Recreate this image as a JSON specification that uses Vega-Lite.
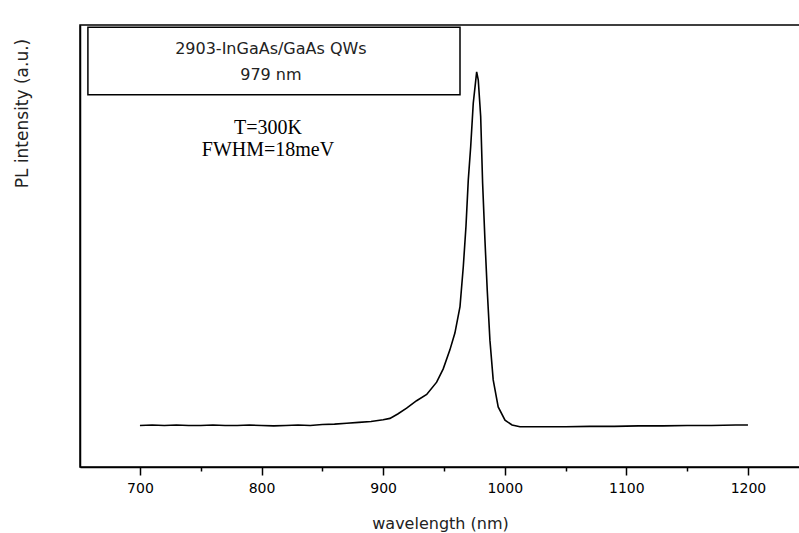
{
  "$schema": "https://vega.github.io/schema/vega-lite/v6.json",
  "width": 720,
  "height": 442,
  "autosize": {"type": "none"},
  "padding": {"left": 80, "top": 25, "right": 0, "bottom": 66},
  "background": "white",
  "config": {
    "view": {"stroke": "black", "strokeWidth": 1.5},
    "axis": {"grid": false, "domainColor": "black", "domainWidth": 1.5, "tickColor": "black", "tickWidth": 1.5, "labelColor": "black", "titleColor": "#222222", "titleFontWeight": "normal", "labelFont": "DejaVu Sans", "titleFont": "DejaVu Sans"}
  },
  "datasets": {
    "spectrum": [
      {"wavelength": 700, "intensity": 9.4},
      {"wavelength": 710, "intensity": 9.5},
      {"wavelength": 720, "intensity": 9.4},
      {"wavelength": 730, "intensity": 9.5},
      {"wavelength": 740, "intensity": 9.4},
      {"wavelength": 750, "intensity": 9.4},
      {"wavelength": 760, "intensity": 9.5},
      {"wavelength": 770, "intensity": 9.4},
      {"wavelength": 780, "intensity": 9.4},
      {"wavelength": 790, "intensity": 9.5},
      {"wavelength": 800, "intensity": 9.4},
      {"wavelength": 810, "intensity": 9.3},
      {"wavelength": 820, "intensity": 9.4},
      {"wavelength": 830, "intensity": 9.5},
      {"wavelength": 840, "intensity": 9.4},
      {"wavelength": 850, "intensity": 9.6},
      {"wavelength": 860, "intensity": 9.7},
      {"wavelength": 870, "intensity": 9.9},
      {"wavelength": 880, "intensity": 10.1},
      {"wavelength": 890, "intensity": 10.3},
      {"wavelength": 900, "intensity": 10.7},
      {"wavelength": 905.6, "intensity": 11.0},
      {"wavelength": 912, "intensity": 12.0},
      {"wavelength": 919.3, "intensity": 13.3},
      {"wavelength": 927.5, "intensity": 15.0},
      {"wavelength": 935.8, "intensity": 16.4},
      {"wavelength": 944, "intensity": 19.2},
      {"wavelength": 949.4, "intensity": 22.2},
      {"wavelength": 954.9, "intensity": 26.5},
      {"wavelength": 959, "intensity": 30.3},
      {"wavelength": 963.2, "intensity": 36.3},
      {"wavelength": 965.9, "intensity": 45.3},
      {"wavelength": 968.1, "intensity": 54.4},
      {"wavelength": 970, "intensity": 64.9},
      {"wavelength": 972, "intensity": 72.5},
      {"wavelength": 974.1, "intensity": 82.3},
      {"wavelength": 976.9, "intensity": 89.4},
      {"wavelength": 978.2, "intensity": 87.6},
      {"wavelength": 980.2, "intensity": 79.3},
      {"wavelength": 981.8, "intensity": 64.2},
      {"wavelength": 983.7, "intensity": 51.4},
      {"wavelength": 985.6, "intensity": 40.0},
      {"wavelength": 987.8, "intensity": 28.7},
      {"wavelength": 990.5, "intensity": 19.7},
      {"wavelength": 994.6, "intensity": 13.6},
      {"wavelength": 1000.2, "intensity": 10.6},
      {"wavelength": 1006, "intensity": 9.5},
      {"wavelength": 1012.5, "intensity": 9.1},
      {"wavelength": 1030, "intensity": 9.1},
      {"wavelength": 1050, "intensity": 9.1},
      {"wavelength": 1070, "intensity": 9.2},
      {"wavelength": 1090, "intensity": 9.2},
      {"wavelength": 1110, "intensity": 9.3},
      {"wavelength": 1130, "intensity": 9.3},
      {"wavelength": 1150, "intensity": 9.4},
      {"wavelength": 1170, "intensity": 9.4},
      {"wavelength": 1190, "intensity": 9.5},
      {"wavelength": 1200, "intensity": 9.5}
    ],
    "box": [{"x1": 657.2, "x2": 963.2, "y1": 84.2, "y2": 99.5}],
    "boxText": [
      {"label": "2903-InGaAs/GaAs QWs", "wl": 807.7, "inten": 94.6},
      {"label": "979 nm", "wl": 807.7, "inten": 88.7}
    ],
    "notes": [
      {"label": "T=300K", "wl": 805.3, "inten": 76.7},
      {"label": "FWHM=18meV", "wl": 805.3, "inten": 71.7}
    ]
  },
  "layer": [
    {
      "data": {"name": "spectrum"},
      "mark": {"type": "line", "color": "black", "strokeWidth": 1.6, "clip": true},
      "encoding": {
        "x": {"field": "wavelength", "type": "quantitative", "scale": {"domain": [650.7, 1242.8], "nice": false, "zero": false},
          "axis": {"title": "wavelength (nm)", "titleFontSize": 16, "titlePadding": 20, "format": "d",
            "values": [700, 750, 800, 850, 900, 950, 1000, 1050, 1100, 1150, 1200],
            "labelExpr": "datum.value % 100 === 0 ? datum.label : ''",
            "tickSize": {"condition": {"test": "datum.value % 100 === 0", "value": 8}, "value": 4},
            "labelFontSize": 14, "labelPadding": 6, "labelFlush": false}},
        "y": {"field": "intensity", "type": "quantitative", "scale": {"domain": [0, 100], "nice": false},
          "axis": {"title": "PL intensity (a.u.)", "titleFontSize": 17, "ticks": false, "labels": false,
            "titleY": 88, "titleX": -58, "titleAngle": -90, "titleAlign": "center", "titleBaseline": "middle"}}
      }
    },
    {
      "data": {"name": "box"},
      "mark": {"type": "rect", "fill": null, "stroke": "black", "strokeWidth": 1.5},
      "encoding": {
        "x": {"field": "x1", "type": "quantitative"},
        "x2": {"field": "x2"},
        "y": {"field": "y1", "type": "quantitative"},
        "y2": {"field": "y2"}
      }
    },
    {
      "data": {"name": "boxText"},
      "mark": {"type": "text", "font": "DejaVu Sans", "fontSize": 16, "color": "#222222", "align": "center", "baseline": "middle"},
      "encoding": {
        "x": {"field": "wl", "type": "quantitative"},
        "y": {"field": "inten", "type": "quantitative"},
        "text": {"field": "label"}
      }
    },
    {
      "data": {"name": "notes"},
      "mark": {"type": "text", "font": "Liberation Serif", "fontSize": 20, "color": "black", "align": "center", "baseline": "middle"},
      "encoding": {
        "x": {"field": "wl", "type": "quantitative"},
        "y": {"field": "inten", "type": "quantitative"},
        "text": {"field": "label"}
      }
    }
  ]
}
